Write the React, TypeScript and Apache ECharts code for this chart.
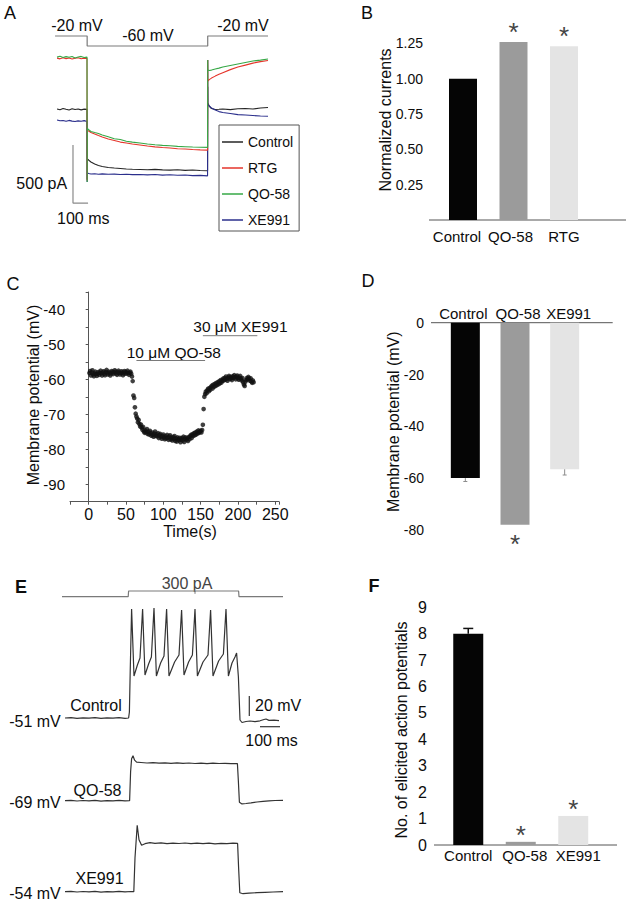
import React, { useEffect, useRef } from 'react';
import * as echarts from 'echarts';

const FONT = '"Liberation Sans", Arial, Helvetica, sans-serif';
const INK = '#0d0d0d';
const AXIS = '#555555';

// ---------------- Panel A : current traces (pA) vs time (ms)
const timeA = [0, 20, 40, 60, 80, 100, 120, 140, 160, 180, 199, 200, 201, 210, 225, 250, 275, 300, 340, 380, 420, 460, 500, 550, 600, 650, 700, 750, 800, 850, 900, 950, 999, 1000, 1001, 1010, 1025, 1050, 1075, 1100, 1150, 1200, 1250, 1300, 1350, 1400];
const currentControl = [957, 951, 962, 955, 949, 960, 953, 958, 950, 956, 954, 350, 526, 517, 500, 483, 470, 461, 453, 448, 444, 440, 438, 436, 434, 437, 432, 430, 433, 428, 431, 427, 425, 1150, 1009, 983, 961, 953, 955, 958, 952, 959, 962, 957, 966, 970];
const currentRTG = [1396, 1390, 1399, 1392, 1397, 1389, 1395, 1400, 1391, 1396, 1393, 340, 776, 767, 754, 741, 728, 716, 698, 685, 672, 664, 655, 647, 638, 631, 625, 621, 615, 612, 608, 605, 603, 1379, 1198, 1211, 1224, 1241, 1257, 1271, 1297, 1319, 1336, 1353, 1366, 1375];
const currentQO58 = [1405, 1412, 1401, 1409, 1403, 1410, 1398, 1406, 1411, 1402, 1405, 328, 790, 780, 763, 754, 746, 733, 718, 701, 694, 679, 672, 664, 655, 649, 644, 640, 635, 632, 629, 628, 626, 1379, 1293, 1289, 1293, 1302, 1310, 1319, 1332, 1345, 1358, 1371, 1379, 1388];
const currentXE991 = [862, 856, 858, 851, 859, 853, 849, 855, 852, 857, 850, 328, 405, 401, 397, 399, 395, 398, 394, 396, 392, 395, 391, 393, 389, 392, 387, 390, 386, 388, 383, 385, 381, 1379, 1000, 983, 966, 948, 935, 927, 918, 909, 905, 901, 897, 895];
const protocolATime = [-13, 200, 200, 1000, 1000, 1400];
const protocolAVolt = [-20, -20, -60, -60, -20, -20];
const scaleATime = [106, 106, 206];
const scaleACurrent = [646, 146, 146];
const legendA = ['Control', 'RTG', 'QO-58', 'XE991'];

// ---------------- Panel B
const catB = ['Control', 'QO-58', 'RTG'];
const valB = [1.0, 1.26, 1.23];
const sigB = ['', '*', '*'];

// ---------------- Panel C : membrane potential (mV), one sample per second from t = 1 s
const tStartC = 1;
const vmC = [
  -58.2, -57.6, -58.9, -58.0, -57.4, -58.6, -59.1, -58.3, -57.8, -58.5,
  -59.0, -58.4, -57.9, -58.7, -58.1, -57.5, -58.3, -58.9, -58.0, -57.7,
  -58.4, -58.8, -57.9, -57.3, -58.2, -58.6, -57.8, -58.1, -58.9, -58.3,
  -57.6, -57.9, -58.5, -58.0, -57.4, -57.8, -58.3, -58.7, -57.9, -57.5,
  -58.1, -58.6, -58.2, -57.7, -58.0, -58.8, -58.3, -57.6, -57.9, -58.4,
  -58.0, -57.5, -58.2, -58.7, -58.1, -57.8, -58.4, -59.2, -60.5, -64.6,
  -65.3, -68.0, -69.8, -70.6, -71.2, -72.3, -71.6, -72.8, -73.5, -72.9,
  -73.8, -74.4, -73.6, -74.9, -75.3, -74.6, -75.1, -74.2, -75.6, -75.0,
  -75.8, -74.7, -75.4, -76.1, -75.2, -75.9, -76.4, -75.5, -74.9, -76.2,
  -75.7, -76.3, -75.4, -76.8, -76.0, -75.6, -76.5, -77.0, -76.2, -75.8,
  -76.6, -77.1, -76.3, -76.9, -75.9, -76.7, -77.3, -76.4, -76.0, -77.2,
  -76.8, -77.5, -76.5, -77.0, -76.2, -77.6, -76.9, -77.8, -76.6, -77.1,
  -77.4, -76.7, -78.0, -77.2, -76.8, -77.5, -76.4, -77.9, -77.0, -76.6,
  -77.3, -76.9, -77.6, -76.5, -77.1, -76.3, -75.9, -76.8, -75.7, -76.2,
  -75.4, -76.0, -75.2, -75.8, -74.9, -75.5, -74.6, -75.3, -75.0, -74.7,
  -75.2, -74.5, -73.0, -68.5, -65.0, -64.2, -63.5, -64.0, -63.1, -62.7,
  -63.4, -62.5, -63.0, -62.2, -61.8, -62.6, -61.5, -62.1, -61.3, -61.9,
  -61.0, -61.6, -60.8, -61.4, -60.5, -61.1, -60.2, -60.9, -60.4, -59.8,
  -60.3, -59.6, -60.1, -59.2, -59.8, -60.4, -59.5, -59.0, -59.9, -59.3,
  -59.7, -60.2, -59.1, -59.6, -58.8, -59.4, -60.0, -59.2, -58.9, -59.7,
  -60.1, -59.5, -59.0, -59.8, -60.3, -59.6, -60.8, -61.5, -61.9, -60.7,
  -60.2, -59.6, -60.0, -59.3, -59.8, -60.4, -59.7, -60.6, -61.0, -60.3,
  -60.8,
];
const drugQOTime = [64, 156];
const drugQOLevel = -54.6;
const drugXETime = [153, 226];
const drugXELevel = -47.5;

// ---------------- Panel D
const catD = ['Control', 'QO-58', 'XE991'];
const valD = [-60, -78, -56.6];
const errD = [1.3, 0, 2.2];
const sigD = ['', '*', ''];

// ---------------- Panel E : [time ms, membrane potential mV]
const stimTime = [-15, 316, 318, 868, 870, 1090];
const stimCurrent = [0, 0, 300, 300, 0, 0];
const traceControl = [
  [0, -51], [30, -50.6], [60, -51.3], [90, -50.8], [120, -51.2], [150, -50.7], [180, -51.4], [210, -50.9], [240, -51.1], [270, -50.6], [300, -51.3], [318, -51],
  [322, -45], [326, -5], [333, 58],
  [345, -9], [362, 2], [375, 9], [388, 58],
  [400, -8], [418, 3], [432, 10], [445, 59],
  [457, -9], [478, 4], [495, 11], [508, 58],
  [520, -9], [548, 5], [570, 12], [583, 57],
  [595, -8], [618, 5], [637, 12], [650, 58],
  [662, -9], [690, 5], [715, 12], [728, 57],
  [740, -9], [768, 6], [792, 13], [805, 58],
  [817, -9], [835, 4], [850, 10], [858, 14],
  [867, -10], [875, -53], [885, -55.5], [905, -54.5], [925, -54], [950, -54.6], [975, -53.8], [995, -52.5], [1005, -52], [1020, -53.4], [1045, -53.2], [1070, -53.6],
];
const traceQO58 = [
  [0, -69], [30, -68.6], [60, -69.3], [90, -68.8], [120, -69.2], [150, -68.7], [180, -69.4], [210, -68.9], [240, -69.1], [270, -68.7], [300, -69.2], [323, -69],
  [328, -40], [333, -27], [340, -24], [348, -28.5], [358, -30.5], [380, -30.8], [410, -31.3], [440, -30.9], [470, -31.4], [500, -31.1], [530, -31.6], [560, -31.2], [590, -31.7], [620, -31.3], [650, -31.8], [680, -31.4], [710, -31.9], [740, -31.5], [770, -31.8], [800, -31.6], [830, -32], [862, -31.8],
  [867, -50], [872, -70.5], [885, -72.2], [905, -71.8], [930, -71.2], [960, -70.3], [990, -69.6], [1020, -69.2], [1050, -68.8], [1090, -68.6],
];
const traceXE991 = [
  [0, -54], [30, -53.6], [60, -54.3], [90, -53.8], [120, -54.2], [150, -53.7], [180, -54.4], [210, -53.9], [240, -54.1], [270, -53.7], [300, -54.2], [330, -53.8], [344, -54],
  [350, -20], [361, 12.5], [370, -2], [383, -7.5], [400, -6], [425, -5], [450, -5.6], [480, -5.2], [510, -5.9], [540, -5.4], [570, -5.8], [600, -5.3], [630, -6], [660, -5.5], [690, -5.9], [720, -5.4], [750, -6.1], [780, -5.6], [810, -5.9], [840, -5.5], [863, -5.7],
  [868, -30], [874, -55], [890, -56], [920, -55.5], [960, -55], [1000, -54.6], [1040, -54.3], [1090, -54],
];
const scaleEVTime = [921.5, 921.5];
const scaleEVmV = [-29, -49];
const scaleEHTime = [975, 1075];
const scaleEHmV = [-59.7, -59.7];

// ---------------- Panel F
const catF = ['Control', 'QO-58', 'XE991'];
const valF = [8, 0.12, 1.1];
const errF = [0.2, 0, 0];
const sigF = ['', '*', '*'];

const BAR_COLORS = ['#050505', '#9b9b9b', '#e4e4e4'];

const pairs = (xs: number[], ys: number[]) => xs.map((x, i) => [x, ys[i]]);

const txt = (text: string, x: number, y: number, o: any = {}) => ({
  type: 'text',
  x,
  y,
  rotation: o.rotation || 0,
  silent: true,
  style: {
    text,
    fill: o.fill || INK,
    fontSize: o.size || 16,
    fontFamily: FONT,
    fontWeight: o.weight || 'normal',
    align: o.align || 'center',
    verticalAlign: 'middle',
    textAlign: o.align || 'center',
    textVerticalAlign: 'middle',
  },
});

const hline = (x1: number, x2: number, y: number) => ({
  type: 'line',
  silent: true,
  shape: { x1, y1: y, x2, y2: y },
  style: { stroke: AXIS, lineWidth: 1 },
});

const axisBase = {
  axisLine: { lineStyle: { color: AXIS, width: 1 } },
  axisTick: { lineStyle: { color: AXIS }, length: 4 },
  splitLine: { show: false },
};

const hiddenX = (gridIndex: number, min: number, max: number) => ({ type: 'value', gridIndex, min, max, show: false });
const hiddenY = (gridIndex: number, min: number, max: number) => ({ type: 'value', gridIndex, min, max, show: false });

const errSeries = (xAxisIndex: number, yAxisIndex: number, vals: number[], errs: number[], color: string, cap: number, width: number) => ({
  type: 'custom',
  xAxisIndex,
  yAxisIndex,
  z: 5,
  silent: true,
  encode: { x: 0, y: 1 },
  data: vals.map((v, i) => [i, v, errs[i]]).filter((d) => d[2] > 0),
  renderItem: (params: any, api: any) => {
    const x = api.value(0);
    const v = api.value(1);
    const e = api.value(2);
    const dir = v < 0 ? -1 : 1;
    const p0 = api.coord([x, v]);
    const p1 = api.coord([x, v + dir * e]);
    return {
      type: 'group',
      children: [
        { type: 'line', shape: { x1: p0[0], y1: p0[1], x2: p1[0], y2: p1[1] }, style: { stroke: color, lineWidth: width } },
        { type: 'line', shape: { x1: p1[0] - cap / 2, y1: p1[1], x2: p1[0] + cap / 2, y2: p1[1] }, style: { stroke: color, lineWidth: width } },
      ],
    };
  },
});

// category label with a small horizontal nudge per label (px; negative = left)
const catLabel = (margin: number, nudges: number[]) => ({
  margin,
  interval: 0,
  hideOverlap: false,
  formatter: (v: string, i: number) => `{c${i}|${v}}`,
  rich: nudges.reduce((acc: any, d, i) => {
    acc['c' + i] = {
      fontSize: 15,
      fontFamily: FONT,
      color: INK,
      padding: [0, d < 0 ? -2 * d : 0, 0, d > 0 ? 2 * d : 0],
    };
    return acc;
  }, {}),
});

function buildOption(): any {
  const traceLine = (name: string, data: any, color: string, width = 1.1) => ({
    type: 'line',
    name,
    xAxisIndex: 0,
    yAxisIndex: 0,
    data,
    symbol: 'none',
    clip: false,
    silent: true,
    lineStyle: { color, width },
    itemStyle: { color },
  });
  const grayLine = (xi: number, yi: number, data: any, color = '#7a7a7a', width = 1) => ({
    type: 'line',
    xAxisIndex: xi,
    yAxisIndex: yi,
    data,
    symbol: 'none',
    clip: false,
    silent: true,
    lineStyle: { color, width },
    itemStyle: { color },
  });
  const eTrace = (xi: number, yi: number, data: any) => grayLine(xi, yi, data, '#333333', 1.2);

  const barSeries = (name: string, xi: number, yi: number, vals: number[], sig: string[], width: number, pos: string, dist: number) => ({
    type: 'bar',
    name,
    xAxisIndex: xi,
    yAxisIndex: yi,
    barWidth: width,
    silent: true,
    data: vals.map((v, i) => ({ value: v, itemStyle: { color: BAR_COLORS[i] } })),
    label: {
      show: true,
      position: pos,
      distance: dist,
      formatter: (p: any) => sig[p.dataIndex],
      fontSize: 26,
      fontFamily: FONT,
      color: '#444',
    },
  });

  return {
    animation: false,
    backgroundColor: '#ffffff',
    textStyle: { fontFamily: FONT },
    grid: [
      { left: 54, top: 20, width: 214, height: 200 }, // 0 A
      { left: 437.75, top: 22.3, width: 151.5, height: 197.7 }, // 1 B
      { left: 70, top: 292, width: 209, height: 209.7 }, // 2 C
      { left: 440.5, top: 322.7, width: 149, height: 213.7 }, // 3 D
      { left: 61, top: 585, width: 222, height: 15 }, // 4 E stim
      { left: 61, top: 600, width: 222, height: 130 }, // 5 E control
      { left: 61, top: 740, width: 222, height: 70 }, // 6 E QO-58
      { left: 61, top: 815, width: 222, height: 85 }, // 7 E XE991
      { left: 442, top: 607.3, width: 157.5, height: 237.7 }, // 8 F
    ],
    xAxis: [
      hiddenX(0, -20, 1400),
      { type: 'category', gridIndex: 1, data: catB, axisLine: { show: false }, axisTick: { show: false }, axisLabel: catLabel(9, [-6, -3, 0]) },
      {
        type: 'value', gridIndex: 2, min: -25, max: 255, interval: 25, ...axisBase,
        axisTick: { lineStyle: { color: AXIS }, length: 3 },
        axisLabel: { margin: 5, fontSize: 16, color: INK, formatter: (v: number) => (v >= 0 && v % 50 === 0 ? String(v) : '') },
      },
      { type: 'category', gridIndex: 3, position: 'top', data: catD, axisLine: { show: false }, axisTick: { show: false }, axisLabel: catLabel(2, [-2, 3, 4]) },
      hiddenX(4, -20, 1090),
      hiddenX(5, -20, 1090),
      hiddenX(6, -20, 1090),
      hiddenX(7, -20, 1090),
      { type: 'category', gridIndex: 8, data: catF, axisLine: { show: false }, axisTick: { show: false }, axisLabel: catLabel(3, [0, 4, 5]) },
    ],
    yAxis: [
      hiddenY(0, 0, 1725),
      { type: 'value', gridIndex: 0, min: -756, max: 44, show: false },
      {
        type: 'value', gridIndex: 1, min: 0, max: 1.4, interval: 0.125, offset: 8.75, ...axisBase,
        axisLabel: {
          margin: 6, fontSize: 14, color: INK,
          formatter: (v: number) => {
            const k = v / 0.25;
            return v > 0 && Math.abs(k - Math.round(k)) < 1e-6 ? v.toFixed(2) : '';
          },
        },
      },
      {
        type: 'value', gridIndex: 2, min: -95, max: -35, interval: 5, ...axisBase,
        axisTick: { lineStyle: { color: AXIS }, length: 3 },
        axisLabel: { margin: 5, fontSize: 15, color: INK, formatter: (v: number) => (v % 10 === 0 ? String(v) : '') },
      },
      {
        type: 'value', gridIndex: 3, min: -82.5, max: 0, offset: 9.5, ...axisBase,
        axisTick: { lineStyle: { color: AXIS }, length: 3, customValues: [0, -20, -40, -60, -80] },
        axisLabel: { margin: 7, fontSize: 14, color: INK, customValues: [0, -20, -40, -60, -80] },
      },
      hiddenY(4, -174, 616),
      hiddenY(5, -63, 67),
      hiddenY(6, -78.3, -8.3),
      hiddenY(7, -62.3, 22.7),
      {
        type: 'value', gridIndex: 8, min: 0, max: 9, interval: 1, offset: 8, ...axisBase,
        axisLabel: { margin: 7, fontSize: 16, color: INK },
      },
    ],
    legend: {
      data: legendA,
      orient: 'vertical',
      left: 219,
      top: 125,
      padding: [10, 6, 4, 3],
      itemGap: 12,
      itemWidth: 21,
      itemHeight: 1.5,
      icon: 'rect',
      borderColor: '#555',
      borderWidth: 1,
      borderRadius: 0,
      selectedMode: false,
      textStyle: { fontSize: 14, color: INK, fontFamily: FONT },
    },
    series: [
      // Panel A
      grayLine(0, 1, pairs(protocolATime, protocolAVolt), '#7a7a7a', 1.2),
      traceLine('Control', pairs(timeA, currentControl), '#262626'),
      traceLine('XE991', pairs(timeA, currentXE991), '#2b2f8c'),
      traceLine('RTG', pairs(timeA, currentRTG), '#e5352b'),
      traceLine('QO-58', pairs(timeA, currentQO58), '#36a846'),
      grayLine(0, 0, pairs(scaleATime, scaleACurrent), '#8a8a8a', 1.2),
      // Panel B
      barSeries('B bars', 1, 2, valB, sigB, 28, 'top', -3),
      // Panel C
      {
        type: 'scatter',
        xAxisIndex: 2,
        yAxisIndex: 3,
        symbol: 'circle',
        symbolSize: 4.6,
        silent: true,
        itemStyle: { color: '#111' },
        data: vmC.map((v, i) => [tStartC + i, v]),
      },
      grayLine(2, 3, drugQOTime.map((t) => [t, drugQOLevel])),
      grayLine(2, 3, drugXETime.map((t) => [t, drugXELevel])),
      // Panel D
      barSeries('D bars', 3, 4, valD, sigD, 29, 'bottom', 6),
      errSeries(3, 4, valD, errD, '#8c8c8c', 4, 1),
      // Panel E
      grayLine(4, 5, pairs(stimTime, stimCurrent), '#7a7a7a', 1.2),
      grayLine(4, 5, [[650, 300], [650, 150]], '#7a7a7a', 1),
      eTrace(5, 6, traceControl),
      eTrace(6, 7, traceQO58),
      eTrace(7, 8, traceXE991),
      grayLine(5, 6, pairs(scaleEVTime, scaleEVmV), '#333', 1.2),
      grayLine(5, 6, pairs(scaleEHTime, scaleEHmV), '#333', 1.2),
      // Panel F
      barSeries('F bars', 8, 9, valF, sigF, 30, 'top', -6),
      errSeries(8, 9, valF, errF, '#111', 10, 1.5),
    ],
    graphic: {
      elements: [
        // panel letters
        txt('A', 10, 13, { size: 18 }),
        txt('B', 367, 13, { size: 18 }),
        txt('C', 13, 284, { size: 18 }),
        txt('D', 368, 281, { size: 18 }),
        txt('E', 21, 587, { size: 18, weight: 'bold' }),
        txt('F', 374, 586, { size: 18, weight: 'bold' }),
        // panel A annotations
        txt('-20 mV', 77, 25),
        txt('-60 mV', 148, 35),
        txt('-20 mV', 243, 25),
        txt('500 pA', 41.7, 183.3),
        txt('100 ms', 83.3, 218.3),
        // panel B
        txt('Normalized currents', 385, 120, { rotation: Math.PI / 2 }),
        hline(429, 626, 220),
        // panel C
        txt('Membrane potential (mV)', 33, 395, { rotation: Math.PI / 2 }),
        txt('Time(s)', 190, 531),
        txt('10 \u03bcM QO-58', 126.7, 352.7, { align: 'left', size: 15.5 }),
        txt('30 \u03bcM XE991', 193.3, 326.7, { align: 'left', size: 15.5 }),
        // panel D
        txt('Membrane potential (mV)', 393, 421.7, { rotation: Math.PI / 2 }),
        hline(431, 612.7, 322.7),
        // panel E
        txt('300 pA', 187, 583, { fill: '#444' }),
        txt('Control', 96, 705),
        txt('-51 mV', 35, 721.7),
        txt('QO-58', 97.5, 790),
        txt('-69 mV', 35, 802),
        txt('XE991', 99.5, 878),
        txt('-54 mV', 35, 893),
        txt('20 mV', 255, 705, { align: 'left' }),
        txt('100 ms', 271.5, 740),
        // panel F
        txt('No. of elicited action potentials', 401.7, 730, { rotation: Math.PI / 2 }),
        hline(434, 617, 845),
      ],
    },
  };
}

export default function App() {
  const ref = useRef<HTMLDivElement>(null);
  useEffect(() => {
    if (!ref.current) return;
    const chart = echarts.init(ref.current, undefined, { renderer: 'svg', width: 629, height: 900 });
    chart.setOption(buildOption());
    return () => chart.dispose();
  }, []);
  return (
    <div
      ref={ref}
      style={{ position: 'absolute', left: 0, top: 0, width: 629, height: 900, background: '#ffffff' }}
    />
  );
}
